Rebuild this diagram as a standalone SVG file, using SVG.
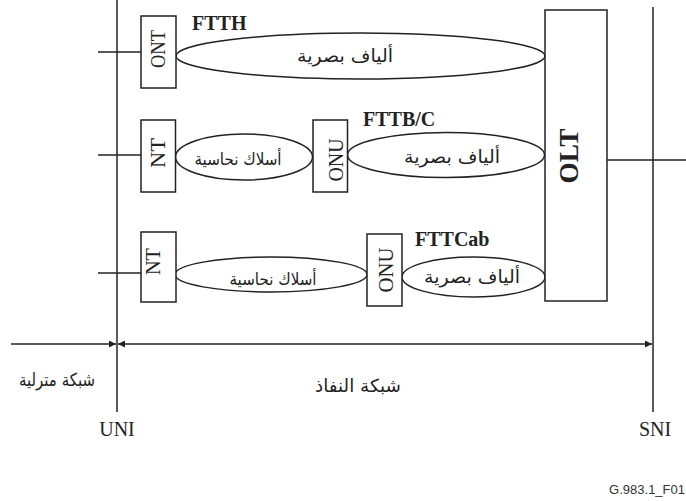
<svg xmlns="http://www.w3.org/2000/svg" width="686" height="501" viewBox="0 0 686 501">
  <style>
    .ln { stroke: #222; stroke-width: 1.5; fill: none; }
    .box { stroke: #222; stroke-width: 1.5; fill: #fff; }
    .ell { stroke: #222; stroke-width: 1.5; fill: #fff; }
    .lat { font-family: "Liberation Serif", "Times New Roman", serif; fill: #222; }
    .bold { font-weight: bold; }
    .ar { font-family: "DejaVu Sans", "Noto Sans", sans-serif; fill: #222; text-anchor: middle; }
    .note { font-family: "Liberation Sans", Arial, sans-serif; font-size: 13px; fill: #333; text-anchor: end; }
  </style>
  <defs>
    <marker id="arr" viewBox="0 0 10 10" refX="10" refY="5" markerWidth="9" markerHeight="7" markerUnits="userSpaceOnUse" orient="auto-start-reverse">
      <path d="M0,0 L10,5 L0,10 z" fill="#222"/>
    </marker>
  </defs>

  <rect width="686" height="501" fill="#fff"/>

  <!-- connectors: interface lines, stubs and the span arrows -->
  <g id="connectors">
    <line class="ln" x1="117" y1="0" x2="117" y2="412"/>
    <line class="ln" x1="653" y1="7" x2="653" y2="412"/>
    <line class="ln" x1="98" y1="52" x2="141" y2="52"/>
    <line class="ln" x1="98" y1="155" x2="141" y2="155"/>
    <line class="ln" x1="98" y1="273" x2="141" y2="273"/>
    <line class="ln" x1="607" y1="160" x2="686" y2="160"/>
    <line class="ln" x1="11" y1="344" x2="116" y2="344" marker-end="url(#arr)"/>
    <line class="ln" x1="118" y1="344" x2="652" y2="344" marker-start="url(#arr)" marker-end="url(#arr)"/>
  </g>

  <!-- FTTH -->
  <g id="ftth-fibre">
    <ellipse class="ell" cx="360.5" cy="56" rx="184.5" ry="23"/>
    <text class="ar" x="345" y="62" font-size="18" textLength="96" lengthAdjust="spacingAndGlyphs">ألياف بصرية</text>
  </g>
  <g id="ont">
    <rect class="box" x="141" y="16" width="35" height="72"/>
    <text class="lat" transform="translate(164.5,49) rotate(-90)" text-anchor="middle" font-size="20" textLength="38" lengthAdjust="spacingAndGlyphs">ONT</text>
  </g>
  <text id="ftth-label" class="lat bold" x="192" y="30" font-size="20">FTTH</text>

  <!-- FTTB/C -->
  <g id="fttb-copper">
    <ellipse class="ell" cx="244" cy="157" rx="68.5" ry="23"/>
    <text class="ar" x="238" y="165" font-size="17" textLength="87" lengthAdjust="spacingAndGlyphs">أسلاك نحاسية</text>
  </g>
  <g id="fttb-fibre">
    <ellipse class="ell" cx="446" cy="155" rx="98.5" ry="22.5"/>
    <text class="ar" x="452" y="163" font-size="18" textLength="96" lengthAdjust="spacingAndGlyphs">ألياف بصرية</text>
  </g>
  <g id="nt-b">
    <rect class="box" x="141" y="120" width="34.5" height="72"/>
    <text class="lat" transform="translate(165,153) rotate(-90)" text-anchor="middle" font-size="20" textLength="30" lengthAdjust="spacingAndGlyphs">NT</text>
  </g>
  <g id="onu-b">
    <rect class="box" x="313" y="120" width="34.5" height="72"/>
    <text class="lat" transform="translate(343,160) rotate(-90)" text-anchor="middle" font-size="20" textLength="43" lengthAdjust="spacingAndGlyphs">ONU</text>
  </g>
  <text id="fttb-label" class="lat bold" x="363" y="126" font-size="20">FTTB/C</text>

  <!-- FTTCab -->
  <g id="fttcab-copper">
    <ellipse class="ell" cx="271" cy="274.5" rx="96" ry="17.5"/>
    <text class="ar" x="273" y="285" font-size="17" textLength="87" lengthAdjust="spacingAndGlyphs">أسلاك نحاسية</text>
  </g>
  <g id="fttcab-fibre">
    <ellipse class="ell" cx="473.5" cy="277" rx="71.5" ry="20"/>
    <text class="ar" x="472" y="283" font-size="18" textLength="96" lengthAdjust="spacingAndGlyphs">ألياف بصرية</text>
  </g>
  <g id="nt-cab">
    <rect class="box" x="141" y="232" width="35" height="70"/>
    <text class="lat" transform="translate(160,261.5) rotate(-90)" text-anchor="middle" font-size="20" textLength="27" lengthAdjust="spacingAndGlyphs">NT</text>
  </g>
  <g id="onu-cab">
    <rect class="box" x="367" y="234" width="35" height="72"/>
    <text class="lat" transform="translate(393,270) rotate(-90)" text-anchor="middle" font-size="20" textLength="45" lengthAdjust="spacingAndGlyphs">ONU</text>
  </g>
  <text id="fttcab-label" class="lat bold" x="415" y="246" font-size="20">FTTCab</text>

  <!-- OLT -->
  <g id="olt">
    <rect class="box" x="545" y="10" width="62" height="291"/>
    <text class="lat bold" transform="translate(578,156) rotate(-90)" text-anchor="middle" font-size="28" textLength="55" lengthAdjust="spacingAndGlyphs">OLT</text>
  </g>

  <!-- network span labels and interfaces -->
  <text id="home-net" class="ar" x="57" y="386" font-size="18" textLength="76" lengthAdjust="spacingAndGlyphs">شبكة مترلية</text>
  <text id="access-net" class="ar" x="358" y="392" font-size="18" textLength="86" lengthAdjust="spacingAndGlyphs">شبكة النفاذ</text>
  <text id="uni" class="lat" x="117" y="436" font-size="20" text-anchor="middle">UNI</text>
  <text id="sni" class="lat" x="655" y="436" font-size="20" text-anchor="middle">SNI</text>
  <text id="fig-id" class="note" x="685" y="494">G.983.1_F01</text>
</svg>
